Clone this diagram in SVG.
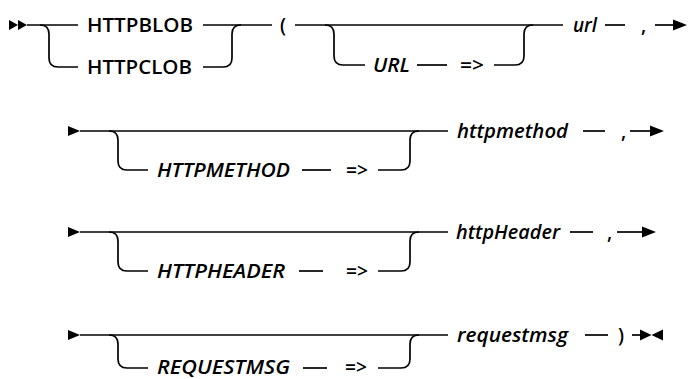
<svg xmlns="http://www.w3.org/2000/svg" width="688" height="379" viewBox="0 0 688 379">
<style>
.ln{fill:none;stroke:#000;stroke-width:1.7}
.hd{fill:#000;stroke:none}
text{font-family:"Open Sans","Liberation Sans",sans-serif;font-size:19px;fill:#000}
.kw{font-weight:600}
.var{font-style:italic;font-weight:600}
</style>
<g id="connectors">
<!-- row 1 -->
<polygon class="hd" points="9,20 18,25 9,30"/>
<polygon class="hd" points="18,20 27,25 18,30"/>
<path class="ln" d="M27,25 H78"/>
<path class="ln" d="M40,25 Q49,25 49,34 V58 Q49,67 58,67 H78"/>
<path class="ln" d="M203,25 H272"/>
<path class="ln" d="M203,67 H223 Q232,67 232,58 V34 Q232,25 241,25"/>
<path class="ln" d="M295,25 H563"/>
<path class="ln" d="M325,25 Q334,25 334,34 V56 Q334,65 343,65 H365"/>
<path class="ln" d="M417,65 H447"/>
<path class="ln" d="M494,65 H515 Q524,65 524,56 V34 Q524,25 533,25"/>
<path class="ln" d="M605,25 H625"/>
<path class="ln" d="M655,25 H674"/>
<polygon class="hd" points="673,19.5 687,25 673,30.5"/>
<!-- row 2 -->
<polygon class="hd" points="68,126 80,131 68,136"/>
<path class="ln" d="M80,131 H448"/>
<path class="ln" d="M109,131 Q118,131 118,140 V161 Q118,170 127,170 H148"/>
<path class="ln" d="M302,170 H331"/>
<path class="ln" d="M378,170 H401 Q410,170 410,161 V140 Q410,131 419,131"/>
<path class="ln" d="M583,131 H605"/>
<path class="ln" d="M630,131 H651"/>
<polygon class="hd" points="650,125.5 664,131 650,136.5"/>
<!-- row 3 -->
<polygon class="hd" points="68,227 80,232 68,237"/>
<path class="ln" d="M80,232 H448"/>
<path class="ln" d="M109,232 Q118,232 118,241 V262 Q118,271 127,271 H148"/>
<path class="ln" d="M299,271 H323"/>
<path class="ln" d="M378,271 H401 Q410,271 410,262 V241 Q410,232 419,232"/>
<path class="ln" d="M570,232 H593"/>
<path class="ln" d="M617,232 H643"/>
<polygon class="hd" points="642,226.5 656,232 642,237.5"/>
<!-- row 4 -->
<polygon class="hd" points="68,330 80,335 68,340"/>
<path class="ln" d="M80,335 H448"/>
<path class="ln" d="M109,335 Q118,335 118,344 V359 Q118,368 127,368 H148"/>
<path class="ln" d="M303,368 H327"/>
<path class="ln" d="M378,368 H401 Q410,368 410,359 V344 Q410,335 419,335"/>
<path class="ln" d="M585,335 H608"/>
<path class="ln" d="M632,335 H641"/>
<polygon class="hd" points="640,329.5 651.5,335 640,340.5"/>
<polygon class="hd" points="663,329.5 651.5,335 663,340.5"/>
</g>
<g id="n-httpblob"><text class="kw" x="87" y="32" textLength="106" lengthAdjust="spacingAndGlyphs">HTTPBLOB</text></g>
<g id="n-httpclob"><text class="kw" x="87" y="74" textLength="105" lengthAdjust="spacingAndGlyphs">HTTPCLOB</text></g>
<g id="n-lparen"><text class="kw" x="280" y="32">(</text></g>
<g id="n-URL"><text class="var" x="373" y="72" textLength="37" lengthAdjust="spacingAndGlyphs">URL</text></g>
<g id="n-arrow1"><text class="kw" x="460" y="72" textLength="24" lengthAdjust="spacingAndGlyphs">=&gt;</text></g>
<g id="n-url"><text class="var" x="573" y="32" textLength="24" lengthAdjust="spacingAndGlyphs">url</text></g>
<g id="n-comma1"><text class="kw" x="641" y="32">,</text></g>
<g id="n-HTTPMETHOD"><text class="var" x="157" y="177" textLength="133" lengthAdjust="spacingAndGlyphs">HTTPMETHOD</text></g>
<g id="n-arrow2"><text class="kw" x="346" y="177" textLength="22" lengthAdjust="spacingAndGlyphs">=&gt;</text></g>
<g id="n-httpmethod"><text class="var" x="457" y="138" textLength="111" lengthAdjust="spacingAndGlyphs">httpmethod</text></g>
<g id="n-comma2"><text class="kw" x="621" y="138">,</text></g>
<g id="n-HTTPHEADER"><text class="var" x="157" y="278" textLength="128" lengthAdjust="spacingAndGlyphs">HTTPHEADER</text></g>
<g id="n-arrow3"><text class="kw" x="346" y="278" textLength="22" lengthAdjust="spacingAndGlyphs">=&gt;</text></g>
<g id="n-httpHeader"><text class="var" x="456" y="239" textLength="104" lengthAdjust="spacingAndGlyphs">httpHeader</text></g>
<g id="n-comma3"><text class="kw" x="607" y="239">,</text></g>
<g id="n-REQUESTMSG"><text class="var" x="157" y="374" textLength="133" lengthAdjust="spacingAndGlyphs">REQUESTMSG</text></g>
<g id="n-arrow4"><text class="kw" x="345" y="374" textLength="22" lengthAdjust="spacingAndGlyphs">=&gt;</text></g>
<g id="n-requestmsg"><text class="var" x="457" y="342" textLength="111" lengthAdjust="spacingAndGlyphs">requestmsg</text></g>
<g id="n-rparen"><text class="kw" x="618" y="342">)</text></g>
</svg>
